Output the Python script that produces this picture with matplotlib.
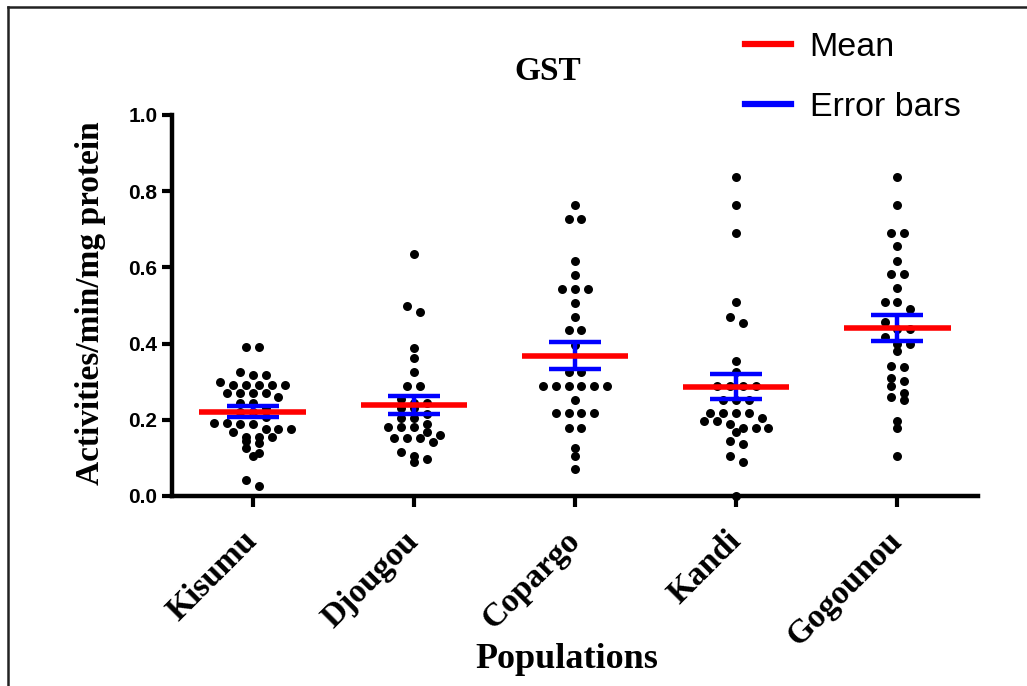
import numpy as np
import matplotlib
matplotlib.use("Agg")
import matplotlib.pyplot as plt
from matplotlib.lines import Line2D

# values
populations = ["Kisumu", "Djougou", "Copargo", "Kandi", "Gogounou"]

kisumu = [0.390, 0.390, 0.326, 0.318, 0.318, 0.300, 0.291, 0.291, 0.291, 0.291,
          0.291, 0.270, 0.270, 0.270, 0.270, 0.259, 0.243, 0.243, 0.232, 0.221,
          0.221, 0.206, 0.192, 0.192, 0.189, 0.189, 0.177, 0.177, 0.177, 0.168,
          0.155, 0.155, 0.155, 0.145, 0.138, 0.125, 0.114, 0.105, 0.041, 0.025]
djougou = [0.636, 0.499, 0.484, 0.389, 0.363, 0.325, 0.289, 0.289, 0.255, 0.243,
           0.243, 0.232, 0.232, 0.215, 0.204, 0.204, 0.190, 0.180, 0.180, 0.180,
           0.168, 0.161, 0.153, 0.153, 0.153, 0.142, 0.115, 0.105, 0.097, 0.089]
copargo = [0.765, 0.727, 0.727, 0.618, 0.581, 0.544, 0.544, 0.544, 0.507, 0.471,
           0.436, 0.436, 0.395, 0.325, 0.325, 0.289, 0.289, 0.289, 0.289, 0.289,
           0.289, 0.252, 0.217, 0.217, 0.217, 0.217, 0.178, 0.178, 0.125, 0.105,
           0.070]
kandi = [0.838, 0.765, 0.691, 0.508, 0.471, 0.455, 0.353, 0.326, 0.289, 0.289,
         0.289, 0.289, 0.252, 0.252, 0.252, 0.217, 0.217, 0.217, 0.217, 0.205,
         0.197, 0.197, 0.190, 0.179, 0.179, 0.179, 0.167, 0.143, 0.136, 0.105,
         0.088, 0.0]
gogounou = [0.838, 0.765, 0.691, 0.691, 0.655, 0.618, 0.582, 0.582, 0.545, 0.508,
            0.508, 0.490, 0.456, 0.439, 0.439, 0.417, 0.398, 0.398, 0.381, 0.342,
            0.339, 0.309, 0.302, 0.289, 0.270, 0.261, 0.252, 0.198, 0.179, 0.105]

means = [0.221, 0.239, 0.368, 0.287, 0.441]
sems = [0.014, 0.0235, 0.036, 0.033, 0.033]

groups = [kisumu, djougou, copargo, kandi, gogounou]

serif = "Liberation Serif"
sans = "Liberation Sans"


def rows_layout(vals, row_h=0.019, step=0.08):
    # prism style: gather close values into a row, then centre the row
    v = sorted(vals, reverse=True)
    rows, cur = [], [v[0]]
    for y in v[1:]:
        if cur[0] - y <= row_h:
            cur.append(y)
        else:
            rows.append(cur)
            cur = [y]
    rows.append(cur)
    xs, ys = [], []
    for r in rows:
        n = len(r)
        for i, y in enumerate(r):
            xs.append((i - (n - 1) / 2) * step)
            ys.append(y)
    return np.array(xs), np.array(ys)


fig = plt.figure(figsize=(10.27, 6.86), dpi=100)
ax = fig.add_axes([0.1675, 0.2770, 0.7848, 0.5554])

for i, g in enumerate(groups):
    dx, ys = rows_layout(g)
    ax.scatter(i + dx, ys, s=42, color="black", linewidths=0, zorder=2,
               clip_on=False)

xpos = np.arange(len(populations))
ax.errorbar(xpos, means, yerr=sems, fmt="none", ecolor="#0000ff",
            elinewidth=3.2, capsize=19, capthick=3.2, zorder=3)
ax.hlines(means, xpos - 0.33, xpos + 0.33, colors="#ff0000", linewidth=4,
          zorder=4)

ax.set_xlim(-0.5, 4.5)
ax.set_ylim(0, 1.0)
ax.set_yticks([0.0, 0.2, 0.4, 0.6, 0.8, 1.0])
ax.set_yticklabels(["0.0", "0.2", "0.4", "0.6", "0.8", "1.0"],
                   fontfamily=sans, fontweight="bold", fontsize=15)
ax.set_xticks(xpos)
ax.set_xticklabels(populations, rotation=45, ha="right", va="center",
                   rotation_mode="anchor", fontfamily=serif,
                   fontweight="bold", fontsize=24)

for s in ["top", "right"]:
    ax.spines[s].set_visible(False)
for s in ["left", "bottom"]:
    ax.spines[s].set_linewidth(3.2)
ax.tick_params(axis="y", direction="out", length=7.5, width=3, pad=3)
ax.tick_params(axis="x", direction="out", length=8, width=3, pad=21)

fig.text(548 / 1027, 1 - 72 / 686, "GST", ha="center", va="center",
         fontfamily=serif, fontweight="bold", fontsize=24)
fig.text(91 / 1027, 1 - 303 / 686, "Activities/min/mg protein", rotation=90,
         ha="center", va="center", fontfamily=serif, fontweight="bold",
         fontsize=24)
fig.text(567 / 1027, 1 - 660 / 686, "Populations", ha="center", va="center",
         fontfamily=serif, fontweight="bold", fontsize=26)

handles = [Line2D([], [], color="#ff0000", linewidth=4.5),
           Line2D([], [], color="#0000ff", linewidth=4.5)]
fig.legend(handles, ["Mean", "Error bars"], loc="upper left",
           bbox_to_anchor=(745 / 1027, 1 - 32 / 686), frameon=False,
           prop={"family": sans, "size": 24.5}, handlelength=1.35,
           handletextpad=0.55, labelspacing=0.85, borderpad=0,
           borderaxespad=0)

# outer frame (top and left edges only)
fig.add_artist(Line2D([8 / 1027, 1], [1 - 7 / 686, 1 - 7 / 686],
                      transform=fig.transFigure, color="#222222", lw=1.8))
fig.add_artist(Line2D([8 / 1027, 8 / 1027], [0, 1 - 7 / 686],
                      transform=fig.transFigure, color="#222222", lw=1.8))

fig.savefig("out.png", dpi=100)
